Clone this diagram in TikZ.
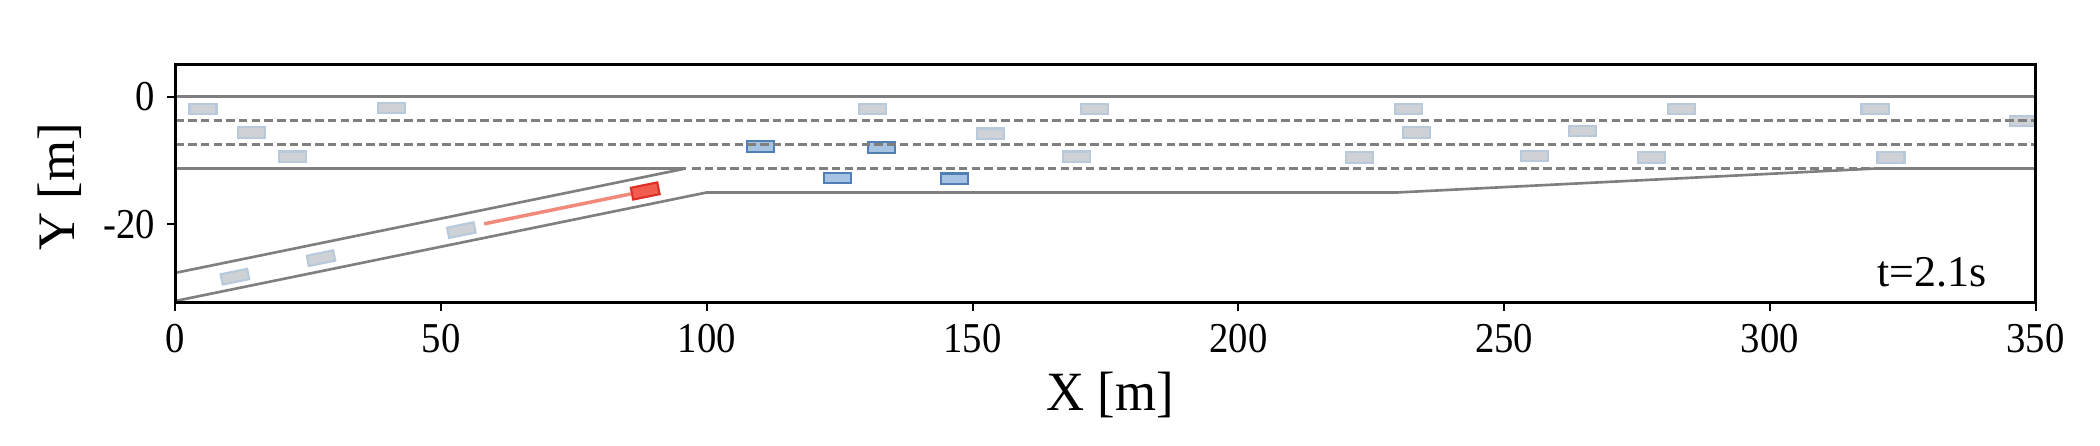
\documentclass[tikz,border=0pt]{standalone}
\usepackage{fontspec}
\setmainfont{Liberation Serif}
\definecolor{roadgray}{HTML}{7F7F7F}
\definecolor{cargrey}{HTML}{CED2D6}
\definecolor{caredge}{HTML}{B8C9DC}
\definecolor{carblue}{HTML}{A7C3E3}
\definecolor{carblueedge}{HTML}{4F7FB4}
\definecolor{egofill}{HTML}{F25C50}
\definecolor{egoedge}{HTML}{DD2F25}
\definecolor{trajred}{HTML}{F28A7C}
\begin{document}
\begin{tikzpicture}[x=0.01cm,y=-0.01cm,
  road/.style={draw=roadgray, line width=0.75pt},
  lanedash/.style={draw=roadgray, line width=0.8pt, dash pattern=on 0.085cm off 0.042cm},
  car/.style={rectangle, inner sep=0pt, minimum width=0.27cm, minimum height=0.105cm, line width=0.6pt},
  greycar/.style={car, fill=cargrey, draw=caredge},
  bluecar/.style={car, fill=carblue, draw=carblueedge},
  egocar/.style={car, fill=egofill, draw=egoedge, minimum height=0.12cm},
  traj/.style={draw=trajred, line width=1pt},
  tickmark/.style={draw=black, line width=0.6pt},
  frame/.style={draw=black, line width=0.9pt},
  ticklabel/.style={inner sep=0pt, yscale=1.1, font=\fontsize{11}{13}\selectfont},
  axlabel/.style={inner sep=0pt, font=\fontsize{15}{18}\selectfont}]
\useasboundingbox (0,0) rectangle (2100,446);
\begin{scope}[shift={(175.4,96.7)}, x=0.05311cm, y=0.0638cm]
  % vehicles (clipped to axes)
  \begin{scope}
    \clip (0,-32.2) rectangle (350,5.07);
    \node[greycar] (g1) at (5.2,-1.95) {};
    \node[greycar] (g2) at (40.6,-1.75) {};
    \node[greycar] (g3) at (14.4,-5.64) {};
    \node[greycar] (g4) at (22.1,-9.4) {};
    \node[greycar] (g5) at (131.2,-1.93) {};
    \node[greycar] (g6) at (173.0,-1.93) {};
    \node[greycar] (g7) at (153.4,-5.8) {};
    \node[greycar] (g8) at (169.6,-9.4) {};
    \node[greycar] (g9) at (222.8,-9.55) {};
    \node[greycar] (g10) at (232.0,-1.93) {};
    \node[greycar] (g11) at (233.6,-5.64) {};
    \node[greycar] (g12) at (264.7,-5.4) {};
    \node[greycar] (g13) at (255.8,-9.3) {};
    \node[greycar] (g14) at (277.7,-9.5) {};
    \node[greycar] (g15) at (283.3,-1.93) {};
    \node[greycar] (g16) at (319.8,-1.93) {};
    \node[greycar] (g17) at (322.8,-9.55) {};
    \node[greycar] (g18) at (347.8,-3.8) {};
    \node[greycar, rotate=11.5] (r1) at (11.2,-28.2) {};
    \node[greycar, rotate=11.5] (r2) at (27.4,-25.3) {};
    \node[greycar, rotate=11.5] (r3) at (53.8,-20.9) {};
    \node[bluecar] (b1) at (110.1,-7.78) {};
    \node[bluecar] (b2) at (132.9,-7.94) {};
    \node[bluecar] (b3) at (124.6,-12.74) {};
    \node[bluecar] (b4) at (146.6,-12.85) {};
    \coordinate (tr0) at (58.1,-19.92);
    \node[egocar, rotate=11.5] (ego) at (88.4,-14.77) {};
    \draw[traj] (tr0) -- (ego.west);
  \end{scope}
  % road lines
  \draw[road] (0,0) -- (350,0);
  \draw[road] (0,-11.25) -- (96,-11.25);
  \draw[road] (320,-11.25) -- (350,-11.25);
  \draw[lanedash] (0,-3.75) -- (350,-3.75);
  \draw[lanedash] (0,-7.5) -- (350,-7.5);
  \draw[lanedash] (97.2,-11.25) -- (320,-11.25);
  \draw[road] (0,-27.6) -- (96,-11.25);
  \draw[road] (0,-32) -- (100,-15) -- (230,-15) -- (320,-11.25);
  % axes frame
  \draw[frame] (0,-32.2) rectangle (350,5.07);
  \foreach \xv in {0,50,...,350} {
    \draw[tickmark] (\xv,-32.2) -- ++(0,-0.09cm);
    \node[ticklabel, anchor=base] (xl\xv) at ([yshift=-0.5cm]\xv,-32.2) {\xv};
  }
  \foreach \yv/\yt in {0/0,-20/-20} {
    \draw[tickmark] (0,\yv) -- ++(-0.085cm,0);
    \node[ticklabel, anchor=east] (yl\yt) at ([xshift=-0.2cm]0,\yv) {\yt};
  }
\end{scope}
\node[axlabel, anchor=base, yscale=1.05] (xlabel) at (1110,410) {X [m]};
\node[axlabel, anchor=base, rotate=90] (ylabel) at (74,187) {Y [m]};
\node[inner sep=0pt, anchor=base, font=\fontsize{12.5}{15}\selectfont] (tlabel) at (1932,287) {t=2.1s};
\end{tikzpicture}
\end{document}
